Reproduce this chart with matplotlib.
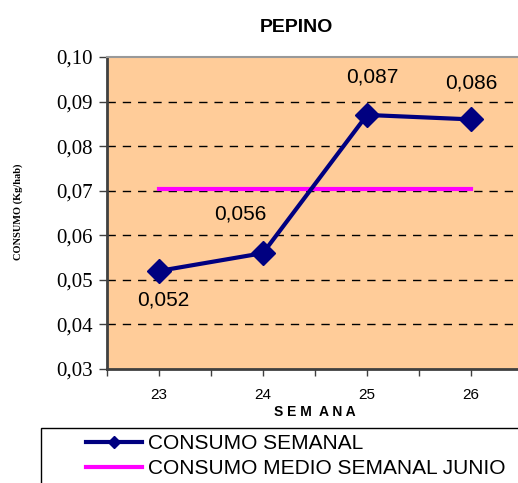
import matplotlib.pyplot as plt
from matplotlib.lines import Line2D
from matplotlib.patches import Rectangle
from matplotlib.ticker import FixedLocator, FuncFormatter

semanas = [23, 24, 25, 26]
consumo_semanal = [0.052, 0.056, 0.087, 0.086]
consumo_medio_junio = 0.0704
etiquetas = ["0,052", "0,056", "0,087", "0,086"]
y_ticks = [0.03, 0.04, 0.05, 0.06, 0.07, 0.08, 0.09, 0.10]

W, H = 518, 483
fig = plt.figure(figsize=(W / 100, H / 100), dpi=100)
ax = fig.add_axes([107 / W, 1 - 369 / H, 416 / W, 312 / H])
ax.set_facecolor('#FFCC99')

# serie semanal y media del mes
ax.plot(semanas, consumo_semanal, color='#000080', lw=3, marker='D',
        markersize=12, zorder=4)
ax.plot([semanas[0], semanas[-1]], [consumo_medio_junio] * 2, color='#FF00FF',
        lw=3, zorder=3)

# etiquetas de datos
offsets = [(3, -21), (-16, 28), (4, 27), (0, 26)]
for x, y, txt, off in zip(semanas, consumo_semanal, etiquetas, offsets):
    ax.annotate(txt, (x, y), xytext=off, textcoords='offset points',
                ha='center', va='center', fontsize=15, family='Liberation Sans')

ax.set_xlim(22.5, 26.5)
ax.set_ylim(0.03, 0.10)
ax.set_yticks(y_ticks)
ax.yaxis.set_major_formatter(FuncFormatter(lambda v, p: f"{v:.2f}".replace('.', ',')))
ax.set_xticks(semanas)
ax.xaxis.set_minor_locator(FixedLocator([22.5, 23.5, 24.5, 25.5, 26.5]))
for lab in ax.get_yticklabels():
    lab.set_family('Liberation Serif')
    lab.set_fontsize(15)
for lab in ax.get_xticklabels():
    lab.set_family('Liberation Sans')
    lab.set_fontsize(11)
ax.tick_params(axis='y', direction='out', length=6, width=1, color='#404040', pad=4)
ax.tick_params(axis='x', which='both', direction='out', length=5, width=1,
               color='#404040', pad=9)

ax.grid(axis='y', color='black', linestyle=(0, (6, 5)), lw=1)
ax.set_axisbelow(True)
# sin rejilla en los extremos (ejes)
ax.yaxis.get_gridlines()[0].set_visible(False)
ax.yaxis.get_gridlines()[-1].set_visible(False)
for s in ['left', 'bottom']:
    ax.spines[s].set_color('#404040')
    ax.spines[s].set_linewidth(2)
ax.spines['top'].set_color('#999999')
ax.spines['top'].set_linewidth(1.5)
ax.spines['right'].set_visible(False)

ax.set_xlabel('S E M  A N A', fontsize=10, fontweight='bold', family='Liberation Sans',
              labelpad=2)
fig.text(18 / W, 1 - 212 / H, 'CONSUMO (Kg/hab)', rotation=90, ha='center', va='center',
         fontsize=7.5, fontweight='bold', family='Liberation Serif')
fig.text(296 / W, 1 - 28 / H, 'PEPINO', ha='center', va='center', fontsize=14,
         fontweight='bold', family='Liberation Sans')

# cuadro de la leyenda
fig.patches.append(Rectangle((41 / W, -0.05), 1, 0.05 + (483 - 428) / H,
                             transform=fig.transFigure, fill=False,
                             edgecolor='black', lw=1))
handles = [Line2D([], [], color='#000080', lw=3, marker='D', markersize=6),
           Line2D([], [], color='#FF00FF', lw=3)]
fig.legend(handles, ['CONSUMO SEMANAL', 'CONSUMO MEDIO SEMANAL JUNIO'],
           loc='center left', bbox_to_anchor=(86 / W, 1 - 456 / H), frameon=False,
           prop={'family': 'Liberation Sans', 'size': 15}, handlelength=2.7,
           handletextpad=0.3, labelspacing=0.3, borderpad=0, borderaxespad=0)

fig.savefig('out.png', dpi=100)
